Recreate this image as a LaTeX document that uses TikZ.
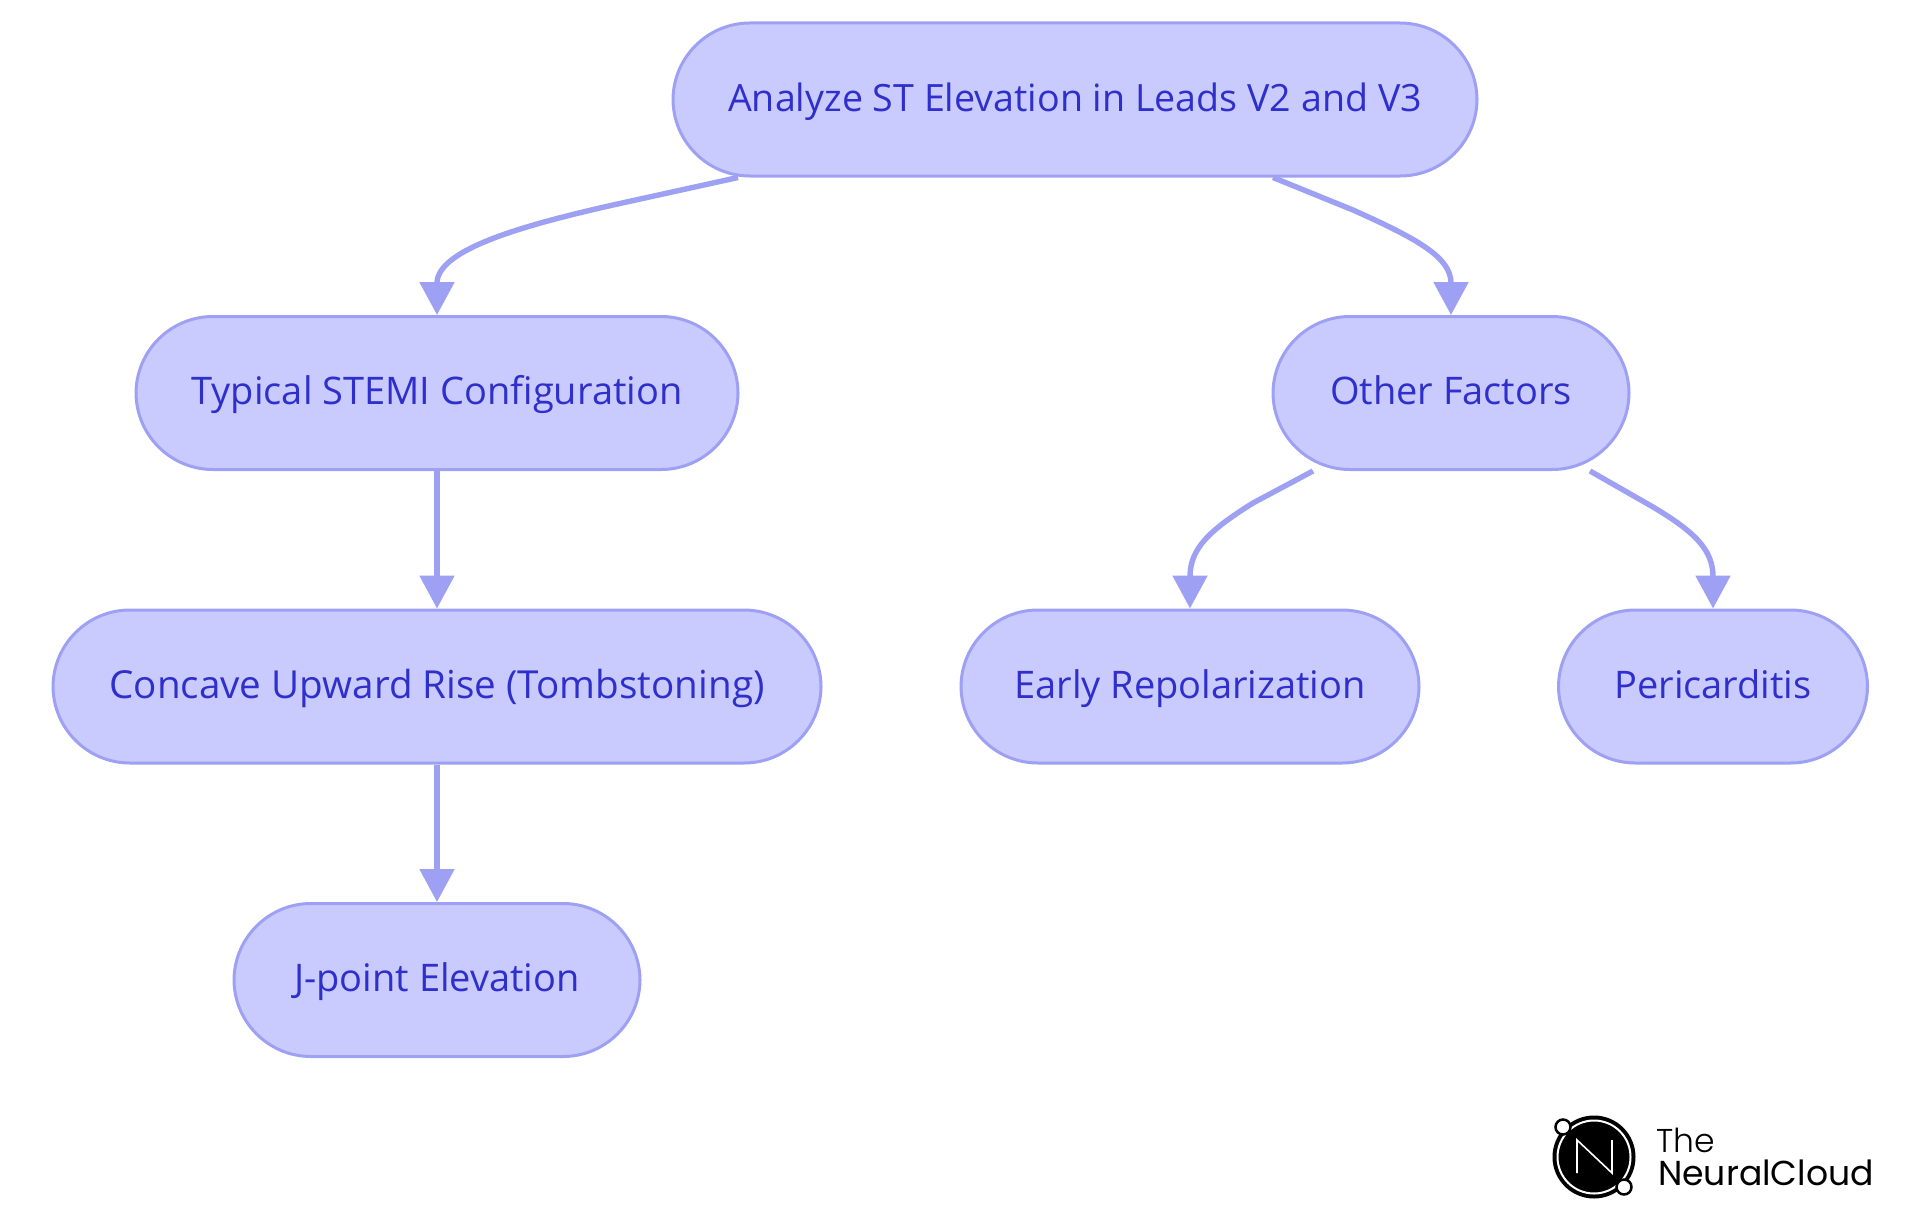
\documentclass[tikz,border=0pt]{standalone}
\usepackage{fontspec}
\usetikzlibrary{arrows.meta,calc}
\setmainfont{Open Sans}
\newfontfamily\logolight[UprightFont=* Light]{Poppins}
\newfontfamily\logoreg{Poppins}
\definecolor{nodefill}{HTML}{C9CAFE}
\definecolor{nodeline}{HTML}{9EA1F3}
\definecolor{nodetext}{HTML}{2F2FCB}
\tikzset{
  box/.style={draw=nodeline,fill=nodefill,line width=3pt,rounded corners=77pt,minimum height=153pt,
    inner sep=0pt,text=nodetext,text height=32pt,text depth=9pt,font=\fontsize{38}{44}\selectfont},
  link/.style={draw=nodeline,line width=5.4pt,-{Triangle[length=33pt,width=34pt]}},
}
\begin{document}
\begin{tikzpicture}[x=1pt,y=-1pt]
\useasboundingbox (0,0) rectangle (1920,1215);
\fill[white] (0,0) rectangle (1920,1215);
\node[box,minimum width=804pt,font=\fontsize{37.6}{44}\selectfont] (top) at (1075,99.5) {Analyze ST Elevation in Leads V2 and V3};
\node[box,minimum width=602pt] (typ) at (437,393) {Typical STEMI Configuration};
\node[box,minimum width=356pt] (oth) at (1451,393) {Other Factors};
\node[box,minimum width=768pt,font=\fontsize{38.6}{44}\selectfont] (con) at (437,686.5) {Concave Upward Rise (Tombstoning)};
\node[box,minimum width=458pt] (ear) at (1190,686.5) {Early Repolarization};
\node[box,minimum width=309pt] (per) at (1713,686.5) {Pericarditis};
\node[box,minimum width=406pt] (jpt) at (437,980) {J-point Elevation};
\path[link] ([xshift=-337pt]top.south) -- (613,205) .. controls (520,226) and (437,250) .. (typ.north);
\path[link] ([xshift=198pt]top.south) -- (1353,210) .. controls (1420,240) and (1451,258) .. (oth.north);
\path[link] (typ) -- (con);
\path[link] (con) -- (jpt);
\path[link] ([xshift=-138pt]oth.south) -- (1253,503) .. controls (1210,530) and (1190,548) .. (ear.north);
\path[link] ([xshift=139pt]oth.south) -- (1653,507) .. controls (1695,532) and (1713,550) .. (per.north);
% logo
\fill[black] (1594,1157) circle (41.5);
\draw[white,line width=2pt] (1594,1157) circle (36.5);
\draw[white,line width=1.6pt,line join=miter] (1577,1173) -- (1577,1140) -- (1612,1173) -- (1612,1140);
\draw[black,fill=white,line width=2.5pt] (1563,1127) circle (7.5);
\draw[black,fill=white,line width=2.5pt] (1624,1187) circle (7.5);
\node[anchor=base west,inner sep=0pt,font=\logolight\fontsize{33}{33}\selectfont] (the) at (1656,1152) {The};
\node[anchor=base west,inner sep=0pt,font=\logoreg\fontsize{34.6}{34}\selectfont] (nc) at (1658,1185) {NeuralCloud};
\end{tikzpicture}
\end{document}
